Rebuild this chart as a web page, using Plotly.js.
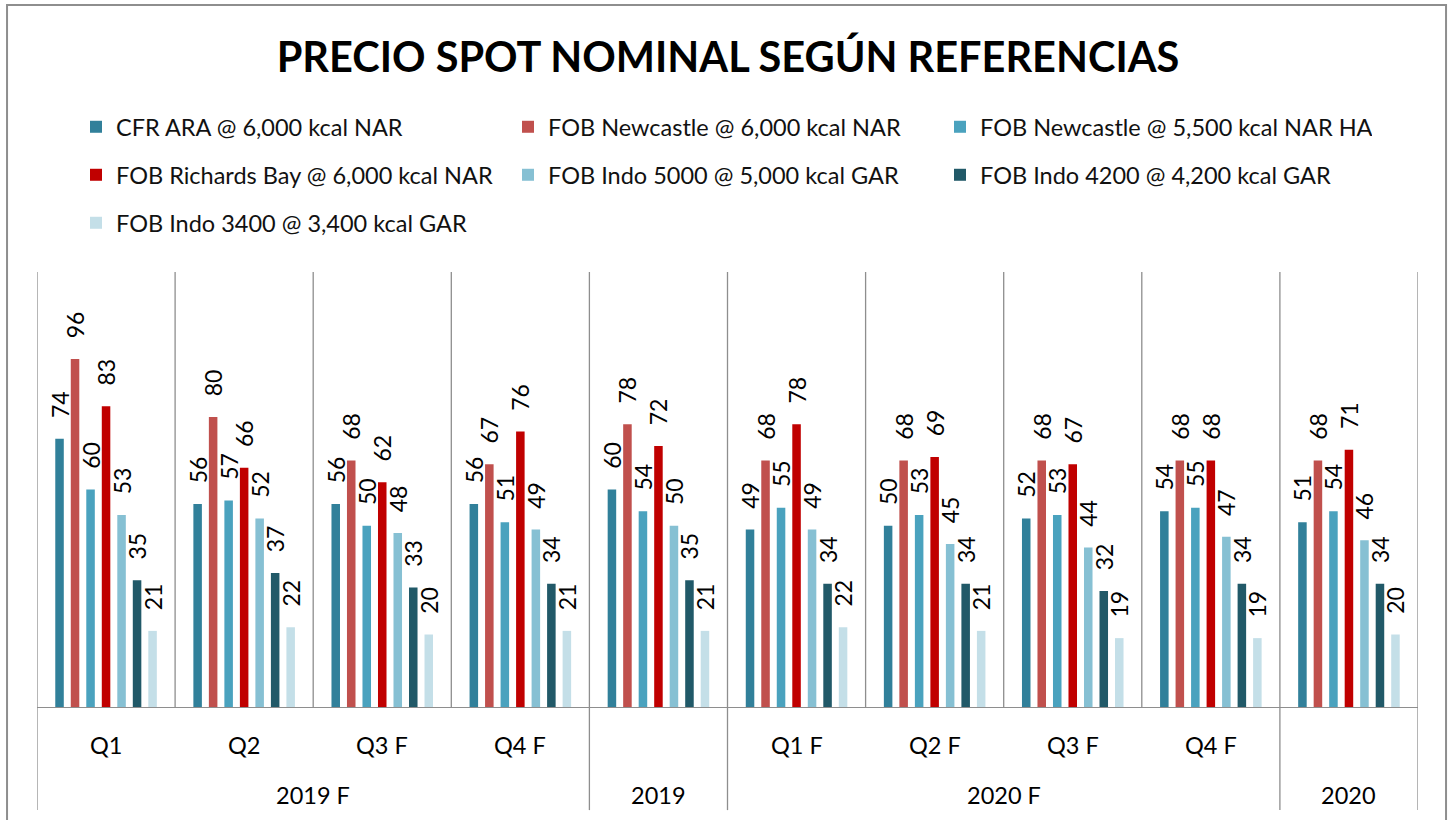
<!DOCTYPE html>
<html>
<head>
<meta charset="utf-8">
<script src="https://cdn.plot.ly/plotly-3.0.1.min.js"></script>
<style>
  html, body { margin: 0; padding: 0; background: #fff; }
  #chart { width: 1453px; height: 820px; }
</style>
</head>
<body>
<div id="chart"></div>
<script>
// ---- Data ----
const subLabels = ['Q1', 'Q2', 'Q3 F', 'Q4 F', '', 'Q1 F', 'Q2 F', 'Q3 F', 'Q4 F', ''];
const groupLabels = ['2019 F', '2019', '2020 F', '2020'];
const groupSizes = [4, 1, 4, 1];

const seriesNames = [
  'CFR ARA @ 6,000 kcal NAR',
  'FOB Newcastle @ 6,000 kcal NAR',
  'FOB Newcastle @ 5,500 kcal NAR HA',
  'FOB Richards Bay @ 6,000 kcal NAR',
  'FOB Indo 5000 @ 5,000 kcal GAR',
  'FOB Indo 4200 @ 4,200 kcal GAR',
  'FOB Indo 3400 @ 3,400 kcal GAR'
];
const cfrAra         = [74, 56, 56, 56, 60, 49, 50, 52, 54, 51];
const newcastle6000  = [96, 80, 68, 67, 78, 68, 68, 68, 68, 68];
const newcastle5500  = [60, 57, 50, 51, 54, 55, 53, 53, 55, 54];
const richardsBay    = [83, 66, 62, 76, 72, 78, 69, 67, 68, 71];
const indo5000       = [53, 52, 48, 49, 50, 49, 45, 44, 47, 46];
const indo4200       = [35, 37, 33, 34, 35, 34, 34, 32, 34, 34];
const indo3400       = [21, 22, 20, 21, 21, 22, 21, 19, 19, 20];
const seriesValues = [cfrAra, newcastle6000, newcastle5500, richardsBay, indo5000, indo4200, indo3400];

const colors = ['#31809A', '#C0504D', '#4AA2BE', '#C00000', '#86C0D3', '#215968', '#C4DFE8'];

// ---- Build ----
const FONT = 'Lato, "Open Sans", sans-serif';
const xIdx = subLabels.map((_, i) => i);
const legendIds = ['legend', 'legend2', 'legend3'];

const traces = seriesNames.map((name, s) => ({
  type: 'bar',
  name: name,
  x: xIdx,
  y: seriesValues[s],
  marker: { color: colors[s] },
  text: seriesValues[s].map(v => '\u00a0\u00a0\u00a0' + v),
  textposition: 'outside',
  textangle: -90,
  constraintext: 'none',
  cliponaxis: false,
  textfont: { family: FONT, size: 23, color: '#000' },
  hoverinfo: 'x+y+name',
  legend: legendIds[Math.floor(s / 3)]
}));

const lineColor = '#8E8E8E';
const shapes = [];
const annotations = [];
const n = subLabels.length;
const below = -0.237;

// inner category separators
for (let i = 1; i < n; i++) {
  shapes.push({ type: 'line', xref: 'x', yref: 'paper', x0: i - 0.5, x1: i - 0.5, y0: 0, y1: 1,
    line: { color: lineColor, width: 1.3 } });
}
// group boundaries extend below the axis
let start = 0;
const bounds = [-0.5];
groupLabels.forEach((g, gi) => {
  const end = start + groupSizes[gi];
  bounds.push(end - 0.5);
  annotations.push({ xref: 'x', yref: 'paper', x: (start + end - 1) / 2, y: -0.2023,
    text: g, showarrow: false, yanchor: 'middle', font: { family: FONT, size: 23.5, color: '#000' } });
  start = end;
});
bounds.forEach(b => {
  shapes.push({ type: 'line', xref: 'x', yref: 'paper', x0: b, x1: b, y0: below, y1: (b === -0.5 || b === n - 0.5) ? 1 : 0,
    line: { color: lineColor, width: 1.3 } });
});
// sub labels
subLabels.forEach((lab, i) => {
  if (!lab) return;
  annotations.push({ xref: 'x', yref: 'paper', x: i, y: -0.0874, text: lab, showarrow: false,
    yanchor: 'middle', font: { family: FONT, size: 23.5, color: '#000' } });
});
// outer chart border
shapes.push({ type: 'rect', xref: 'paper', yref: 'paper', x0: -0.0217, x1: 1.0203, y0: -0.3, y1: 1.614,
  line: { color: lineColor, width: 2 }, fillcolor: 'rgba(0,0,0,0)', layer: 'below' });

const legendBase = {
  orientation: 'h', xref: 'container', yref: 'container', xanchor: 'left', yanchor: 'middle',
  x: 76 / 1453, entrywidth: 387, entrywidthmode: 'pixels', bgcolor: 'rgba(0,0,0,0)',
  font: { family: FONT, size: 23.5, color: '#111' }, traceorder: 'normal'
};

const layout = {
  width: 1453, height: 820,
  margin: { l: 37, r: 35, t: 272, b: 113, pad: 0 },
  paper_bgcolor: '#fff', plot_bgcolor: '#fff',
  title: { text: '<b>PRECIO SPOT NOMINAL SEGÚN REFERENCIAS</b>', xref: 'container', yref: 'container',
    x: 728 / 1453, y: 1 - 57 / 820, xanchor: 'center', yanchor: 'middle',
    font: { family: FONT, size: 41.5, color: '#000' } },
  barmode: 'group', bargap: 0.214, bargroupgap: 0.45,
  xaxis: { range: [-0.5, n - 0.5], showticklabels: false, ticks: '', showgrid: false, zeroline: false,
    showline: true, linecolor: lineColor, linewidth: 1.3, fixedrange: true },
  yaxis: { range: [0, 120], visible: false, showgrid: false, zeroline: false, fixedrange: true },
  showlegend: true,
  legend: Object.assign({}, legendBase, { y: 1 - 127 / 820 }),
  legend2: Object.assign({}, legendBase, { y: 1 - 175 / 820 }),
  legend3: Object.assign({}, legendBase, { y: 1 - 223 / 820 }),
  shapes: shapes,
  annotations: annotations
};

Plotly.newPlot('chart', traces, layout, { displayModeBar: false, staticPlot: false });
</script>
</body>
</html>
